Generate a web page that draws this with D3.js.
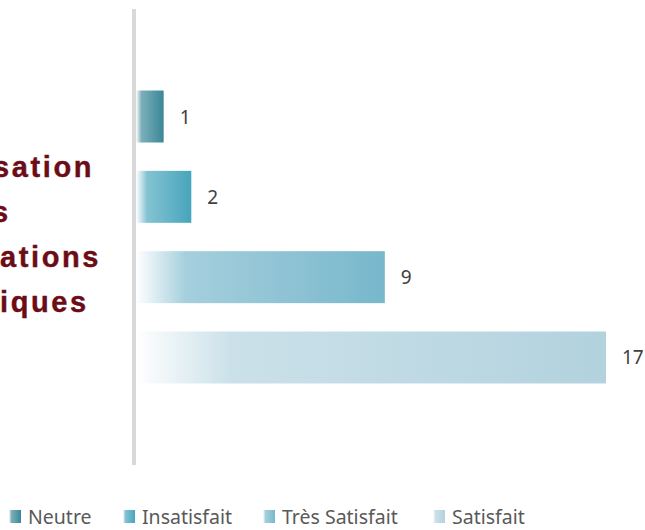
<!DOCTYPE html>
<html>
<head>
<meta charset="utf-8">
<script src="https://cdn.jsdelivr.net/npm/d3@7"></script>
<style>
  html, body { margin: 0; padding: 0; background: #ffffff; }
  svg { display: block; }
</style>
</head>
<body>
<svg id="chart" width="645" height="530"></svg>
<script>
// ---- data ----
const series = ["Neutre", "Insatisfait", "Très Satisfait", "Satisfait"];
const values = [1, 2, 9, 17];
const seriesColors = ["#3a8797", "#47a5bc", "#78b7cc", "#b2d2de"];
const titleLines = ["Utilisation", "des", "applications", "informatiques"];

// ---- layout ----
const svg = d3.select("#chart");
const defs = svg.append("defs");

const x = d3.scaleLinear().domain([0, 17]).range([136, 606]);
const y = d3.scaleBand().domain(series).range([9, 465]).paddingInner(0.353).paddingOuter(1.015);
const color = d3.scaleOrdinal().domain(series).range(seriesColors);

// gradients
series.forEach((s, i) => {
  const c = color(s);
  const g = defs.append("linearGradient")
    .attr("id", "grad" + i)
    .attr("x1", "0").attr("y1", "0").attr("x2", "1").attr("y2", "0");
  g.append("stop").attr("offset", "0").attr("stop-color", "#ffffff");
  g.append("stop").attr("offset", "0.2").attr("stop-color", d3.interpolateRgb(c, "#ffffff")(0.33));
  g.append("stop").attr("offset", "1").attr("stop-color", c);
});

// bars
svg.append("g").selectAll("rect")
  .data(series)
  .join("rect")
  .attr("x", x(0))
  .attr("y", d => y(d))
  .attr("width", (d, i) => x(values[i]) - x(0))
  .attr("height", y.bandwidth())
  .attr("fill", (d, i) => `url(#grad${i})`);

// category axis line
svg.append("line")
  .attr("x1", 134).attr("x2", 134)
  .attr("y1", y.range()[0]).attr("y2", y.range()[1])
  .attr("stroke", "#d9d9d9").attr("stroke-width", 4);

// value labels
svg.append("g").selectAll("text")
  .data(series)
  .join("text")
  .attr("x", (d, i) => x(values[i]) + 16)
  .attr("y", d => y(d) + y.bandwidth() / 2 + 7)
  .attr("font-family", "'Noto Sans', sans-serif")
  .attr("font-size", 19)
  .attr("fill", "#404040")
  .text((d, i) => values[i]);

// title (left, partially cut off as in the reference)
// each line is shifted so that a given character starts at a given x
const anchorChar = [5, 2, 6, 8];
const anchorX = [-7, -8, 0, 0];
const ls = 2.6;
svg.append("g").selectAll("text")
  .data(titleLines)
  .join("text")
  .attr("x", 0)
  .attr("y", (d, i) => 177 + i * 45)
  .attr("font-family", "'Liberation Sans', Arial, sans-serif")
  .attr("font-weight", "bold")
  .attr("font-size", 29)
  .attr("letter-spacing", ls)
  .attr("fill", "#6b0c17")
  .attr("stroke", "#6b0c17")
  .attr("stroke-width", 0.4)
  .text(d => d)
  .each(function (d, i) {
    const p = this.getStartPositionOfChar(anchorChar[i]).x;
    d3.select(this).attr("x", anchorX[i] - p);
  });

// legend
const legendX = [9, 123, 263, 433];
const leg = svg.append("g");
series.forEach((s, i) => {
  const gi = leg.append("g").attr("transform", `translate(${legendX[i]},510)`);
  gi.append("rect").attr("width", 12).attr("height", 13).attr("fill", `url(#grad${i})`);
  gi.append("text")
    .attr("x", 19).attr("y", 14)
    .attr("font-family", "'Noto Sans', sans-serif")
    .attr("font-size", 19.5)
    .attr("fill", "#595959")
    .text(s);
});
</script>
</body>
</html>
